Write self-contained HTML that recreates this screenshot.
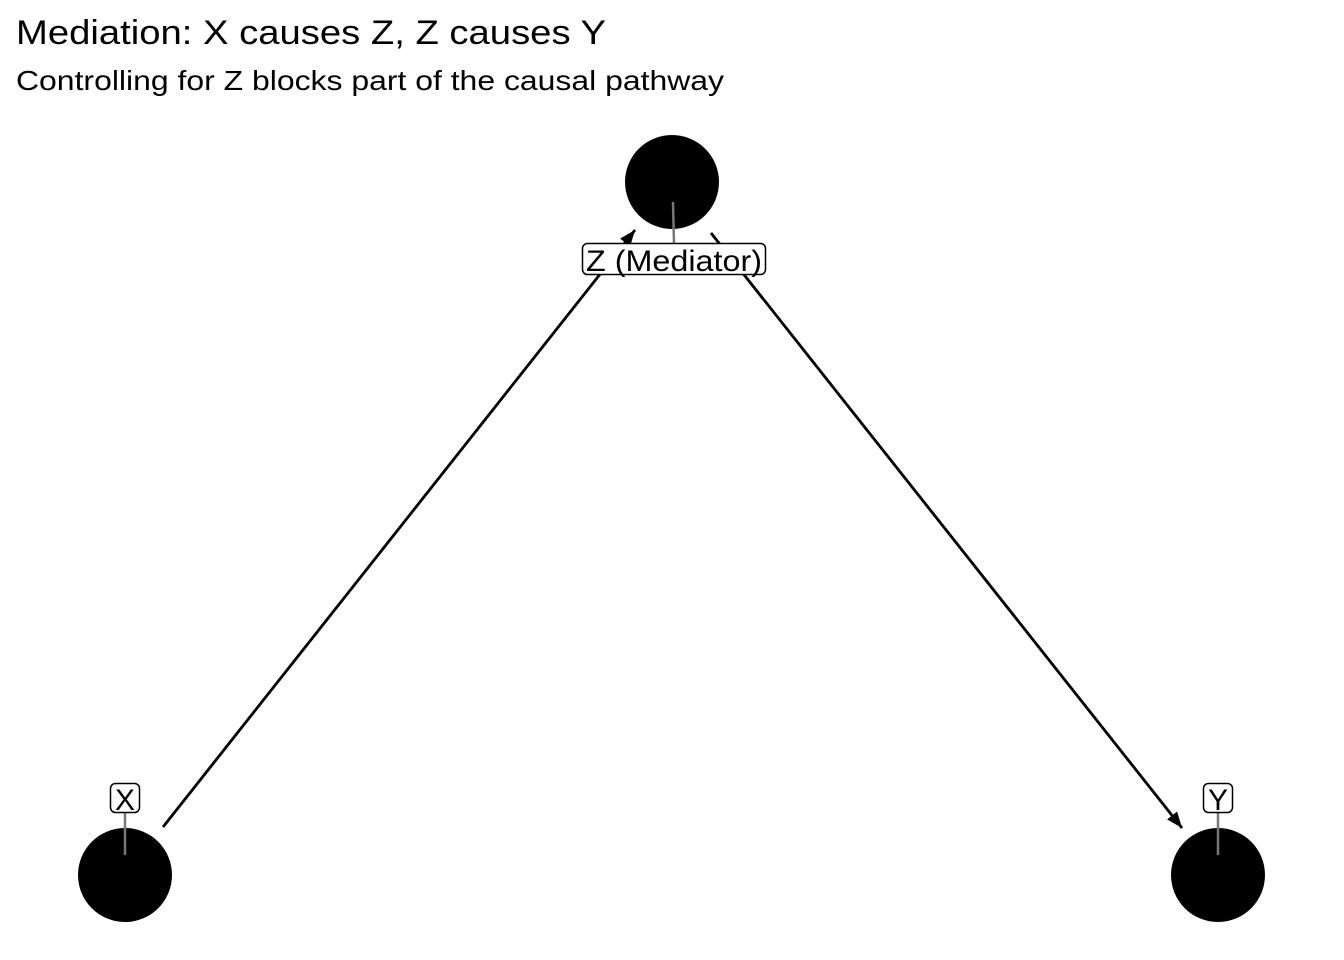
<!DOCTYPE html>
<html><head><style>html,body{margin:0;padding:0;background:#fff}</style></head>
<body>
<svg width="1344" height="960" xmlns="http://www.w3.org/2000/svg" style="display:block;font-family:'Liberation Sans',sans-serif">
<rect width="1344" height="960" fill="#fff"/>
<text x="16" y="44" font-size="34" textLength="590" lengthAdjust="spacingAndGlyphs">Mediation: X causes Z, Z causes Y</text>
<text x="16" y="90" font-size="28" textLength="708" lengthAdjust="spacingAndGlyphs">Controlling for Z blocks part of the causal pathway</text>
<defs>
<marker id="b" viewBox="0 0 10 10" markerWidth="16" markerHeight="16" refX="10" refY="5" orient="auto" markerUnits="userSpaceOnUse"><path d="M0,1 L10,5 L0,9 z" fill="#000"/></marker></defs>
<line x1="163" y1="827" x2="635" y2="230" stroke="#000" stroke-width="2.8" marker-end="url(#b)"/>
<line x1="711" y1="233" x2="1182" y2="828" stroke="#000" stroke-width="2.8" marker-end="url(#b)"/>
<circle cx="672" cy="182" r="47" fill="#000"/>
<circle cx="125" cy="875" r="47" fill="#000"/>
<circle cx="1218" cy="875" r="47" fill="#000"/>
<line x1="673" y1="202" x2="674" y2="244" stroke="#777" stroke-width="2.5"/>
<line x1="125" y1="813" x2="125" y2="855" stroke="#777" stroke-width="2.5"/>
<line x1="1218" y1="813" x2="1218" y2="855" stroke="#777" stroke-width="2.5"/>
<rect x="582.5" y="243.5" width="183" height="31" rx="5" fill="#fff" stroke="#000" stroke-width="1.5"/>
<text x="674" y="271" font-size="30" text-anchor="middle" textLength="176" lengthAdjust="spacingAndGlyphs">Z (Mediator)</text>
<rect x="110.5" y="783.5" width="29" height="29" rx="5" fill="#fff" stroke="#000" stroke-width="1.5"/>
<text x="125" y="810" font-size="30" text-anchor="middle">X</text>
<rect x="1203.5" y="783.5" width="29" height="29" rx="5" fill="#fff" stroke="#000" stroke-width="1.5"/>
<text x="1218" y="810" font-size="30" text-anchor="middle">Y</text>
</svg>
</body></html>
